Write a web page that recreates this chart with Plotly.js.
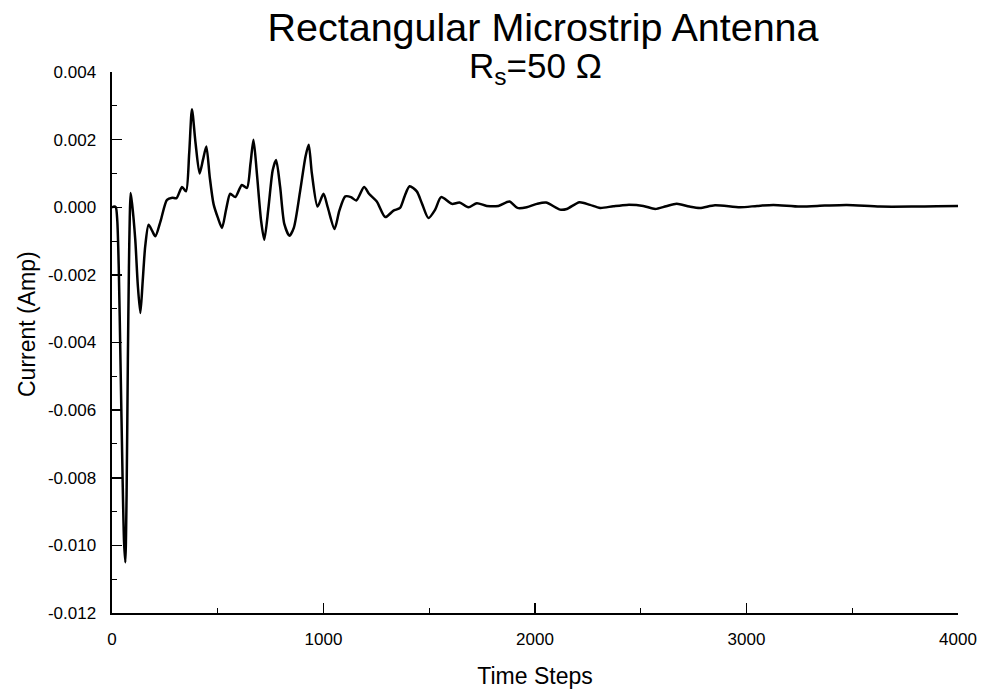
<!DOCTYPE html>
<html>
<head>
<meta charset="utf-8">
<script src="https://cdn.plot.ly/plotly-3.0.1.min.js"></script>
<style>html,body{margin:0;padding:0;background:#fff;}#chart{width:982px;height:697px;}</style>
</head>
<body>
<div id="chart"></div>
<script>
// Time steps and current (Amp)
const timeSteps = [0,10,18,25,32,40,50,57,63,69,75,80,84,88,95,110,122,134,145,157,173,190,205,230,260,285,305,331,350,365,378,395,414,430,446,462,480,500,520,540,559,583,614,638,655,669,685,705,720,740,760,776,795,815,839,860,890,915,930,945,972,1000,1020,1052,1075,1103,1130,1155,1192,1215,1252,1292,1331,1362,1385,1407,1441,1465,1496,1528,1556,1607,1643,1685,1725,1772,1827,1879,1917,1961,2009,2052,2119,2150,2210,2260,2308,2370,2434,2512,2568,2620,2670,2730,2780,2851,2969,3050,3127,3253,3370,3474,3631,3788,3900,4000];
const currentAmp = [0,0.00002,0,-0.0004,-0.0018,-0.0045,-0.008,-0.0099,-0.0105,-0.0085,-0.0045,-0.0018,-0.0003,0.00042,0.0001,-0.00096,-0.0023,-0.00313,-0.0022,-0.00116,-0.00052,-0.0007,-0.00086,-0.0004,0.00022,0.00028,0.00027,0.0006,0.00047,0.0016,0.0029,0.0019,0.001,0.0014,0.0018,0.0009,0.0001,-0.0003,-0.00061,-0.00005,0.0004,0.0003,0.00066,0.00057,0.0013,0.002,0.001,-0.0004,-0.00096,0,0.0011,0.0014,0.0006,-0.0005,-0.00084,-0.0006,0.0005,0.0015,0.00185,0.001,0.00002,0.0004,0,-0.00064,-0.0001,0.00032,0.0003,0.0002,0.0006,0.0004,0.00017,-0.00029,-0.0001,-0.00002,0.00035,0.00062,0.00047,0.00012,-0.00032,-0.00007,0.0003,0.0001,0.00014,0,0.00012,0.00004,0.00004,0.00017,-0.00002,0,0.0001,0.00014,-0.00007,-0.00005,0.00015,0.00007,-0.00002,0.00003,0.00007,0.00004,-0.00005,0.00003,0.0001,0.00002,-0.00002,0.00006,0,0.00004,0.00007,0.00002,0.00005,0.00007,0.00002,0.00002,0.00003,0.00004];
const yTickVals = [0.004,0.002,0,-0.002,-0.004,-0.006,-0.008,-0.010,-0.012];
const yTickText = ['0.004','0.002','0.000','-0.002','-0.004','-0.006','-0.008','-0.010','-0.012'];
const xTickVals = [0,1000,2000,3000,4000];
const xTickText = ['0','1000','2000','3000','4000'];

const FONT = 'Liberation Sans, Arial, Helvetica, sans-serif';

const trace = {
  x: timeSteps, y: currentAmp, type: 'scatter', mode: 'lines',
  line: {color: '#000', width: 2.5, shape: 'spline', smoothing: 0.7},
  hoverinfo: 'x+y'
};

const layout = {
  width: 982, height: 697,
  margin: {l: 112, r: 24, t: 72, b: 84},
  paper_bgcolor: '#fff', plot_bgcolor: '#fff',
  showlegend: false,
  font: {family: FONT, color: '#000', size: 17},
  title: {
    text: 'Rectangular Microstrip Antenna',
    font: {family: FONT, size: 39.5, color: '#000'},
    x: 543/982, xanchor: 'center', xref: 'container',
    y: 1 - 27/697, yanchor: 'middle', yref: 'container'
  },
  annotations: [{
    text: 'R<sub>s</sub>=50 Ω', showarrow: false,
    xref: 'paper', yref: 'paper',
    x: 0.5, xanchor: 'center',
    y: 1 + 4/541, yanchor: 'middle',
    font: {family: FONT, size: 35, color: '#000'}
  }, {
    text: 'Current (Amp)', showarrow: false, textangle: -90,
    xref: 'paper', yref: 'paper',
    x: -85/846, xanchor: 'center',
    y: (613 - 324)/541, yanchor: 'middle',
    font: {family: FONT, size: 23, color: '#000'}
  }],
  xaxis: {
    range: [0, 4000], showgrid: false, zeroline: false,
    showline: true, linecolor: '#000', linewidth: 2, mirror: false,
    tickmode: 'array', tickvals: xTickVals, ticktext: xTickText,
    ticks: 'inside', ticklen: 10, tickwidth: 1.5, tickcolor: '#000',
    minor: {ticks: 'inside', ticklen: 5, tickwidth: 1, tickcolor: '#000', dtick: 500, tick0: 0, showgrid: false},
    ticklabelstandoff: 10,
    tickfont: {family: FONT, size: 17, color: '#000'},
    title: {text: 'Time Steps', font: {family: FONT, size: 23, color: '#000'}, standoff: 19}
  },
  yaxis: {
    range: [-0.012, 0.004], showgrid: false, zeroline: false,
    showline: true, linecolor: '#000', linewidth: 2.5, mirror: false,
    tickmode: 'array', tickvals: yTickVals, ticktext: yTickText,
    ticks: 'inside', ticklen: 10, tickwidth: 1.5, tickcolor: '#000',
    minor: {ticks: 'inside', ticklen: 5, tickwidth: 1, tickcolor: '#000', dtick: 0.001, tick0: 0, showgrid: false},
    ticklabelstandoff: 10,
    tickfont: {family: FONT, size: 17, color: '#000'}
  }
};

Plotly.newPlot('chart', [trace], layout, {displayModeBar: false, staticPlot: true});
</script>
</body>
</html>
